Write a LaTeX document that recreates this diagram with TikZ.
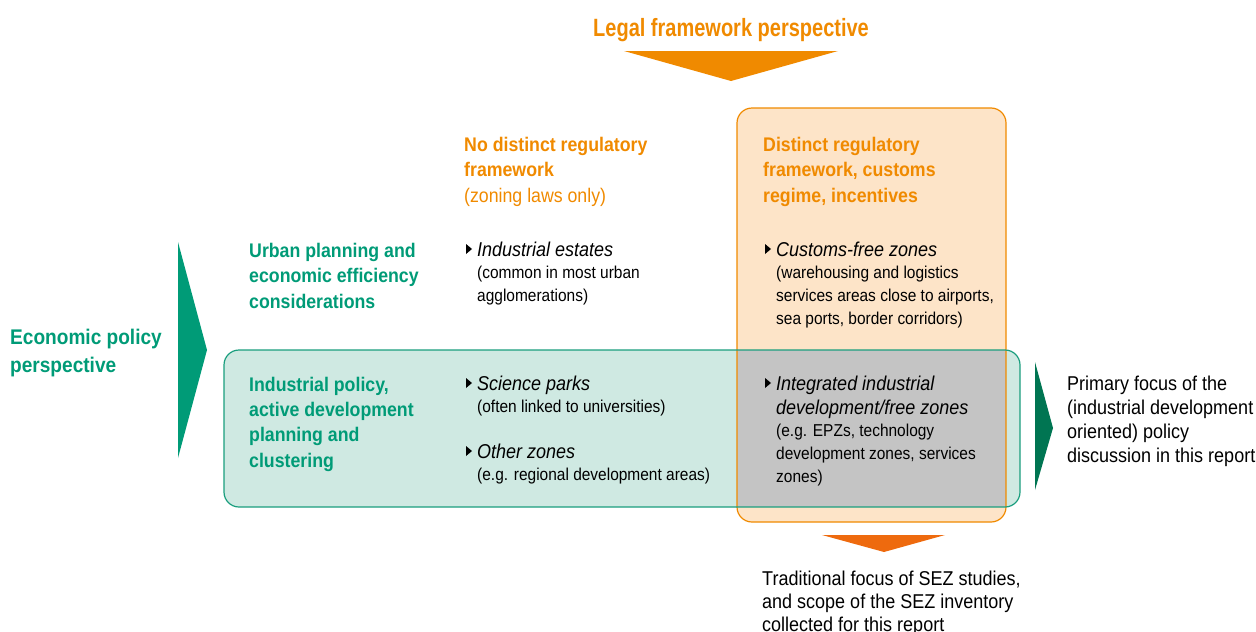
\documentclass[tikz,border=0pt]{standalone}
\usepackage{fontspec}
\setmainfont{Liberation Sans}[FakeStretch=0.9]
\newfontfamily\titlefont{Liberation Sans}[FakeStretch=0.8]
\usetikzlibrary{calc}
\definecolor{lorange}{HTML}{F08A00}
\definecolor{dorange}{HTML}{EE6A0E}
\definecolor{ofill}{HTML}{FDE4C8}
\definecolor{gline}{HTML}{1A9E7E}
\definecolor{gtext}{HTML}{009B77}
\definecolor{gfill}{HTML}{CFE9E2}
\definecolor{dgreen}{HTML}{007552}
\definecolor{grey}{HTML}{C4C4C4}
\tikzset{
  txt/.style={anchor=base west, inner sep=0pt, align=left},
  ttl/.style={txt, text=lorange, font=\titlefont\bfseries\fontsize{25}{30}\selectfont},
  colhead/.style={txt, text=lorange, font=\bfseries\fontsize{19.7}{25.5}\selectfont},
  rowhead/.style={txt, text=gtext, font=\bfseries\fontsize{19.7}{25.3}\selectfont},
  econ/.style={txt, text=gtext, font=\bfseries\fontsize{21.2}{28}\selectfont},
  item/.style={txt, font=\itshape\fontsize{20}{24}\selectfont},
  desc/.style={txt, font=\fontsize{17.2}{23}\selectfont},
  note/.style={txt, font=\fontsize{20}{24}\selectfont},
  notes/.style={txt, font=\fontsize{20}{23}\selectfont},
  bul/.style={fill=black},
}
\newcommand{\bullettri}[1]{\fill[bul] #1 ++(-11,-2) -- ++(0,-10) -- ++(6,5) -- cycle;}
\begin{document}
\begin{tikzpicture}[x=1pt,y=-1pt]
\useasboundingbox (0,0) rectangle (1256,632);
% boxes
\fill[ofill, rounded corners=15] (737,108) rectangle (1006,522);
\fill[gfill, rounded corners=15] (224,350) rectangle (1020,507);
\fill[grey] (737,350) rectangle (1006,507);
\draw[lorange, line width=1.2, rounded corners=15] (737,108) rectangle (1006,522);
\draw[gline, line width=1.2, rounded corners=15] (224,350) rectangle (1020,507);
% arrows
\coordinate (tA) at (624,51); \coordinate (tB) at (838,51); \coordinate (tC) at (731,81);
\fill[lorange] (tA) -- (tB) -- (tC) -- cycle;
\coordinate (lA) at (178,242); \coordinate (lB) at (178,458); \coordinate (lC) at (207,350);
\fill[gtext] (lA) -- (lC) -- (lB) -- cycle;
\coordinate (rA) at (1035,362); \coordinate (rB) at (1035,490); \coordinate (rC) at (1053,428);
\fill[dgreen] (rA) -- (rC) -- (rB) -- cycle;
\coordinate (bA) at (822,535); \coordinate (bB) at (945,535); \coordinate (bC) at (884,552);
\fill[dorange] (bA) -- (bB) -- (bC) -- cycle;
% titles (multi-line nodes are placed by the baseline of their last line)
\node[ttl] (legal) at (593,36) {Legal framework perspective};
\node[econ] (econ) at (10,372) {Economic policy\\perspective};
\node[colhead] (col1) at (464,202) {No distinct regulatory\\framework\\\mdseries(zoning laws only)};
\node[colhead] (col2) at (763,202) {Distinct regulatory\\framework, customs\\regime, incentives};
\node[rowhead] (row1) at (249,308) {Urban planning and\\economic efficiency\\considerations};
\node[rowhead] (row2) at (249,467) {Industrial policy,\\active development\\planning and\\clustering};
% items
\node[item] (ie) at (477,256) {Industrial estates};
\node[desc] (ied) at (477,301) {(common in most urban\\agglomerations)};
\node[item] (cf) at (776,256) {Customs-free zones};
\node[desc] (cfd) at (776,324) {(warehousing and logistics\\services areas close to airports,\\sea ports, border corridors)};
\node[item] (sp) at (477,390) {Science parks};
\node[desc] (spd) at (477,412) {(often linked to universities)};
\node[item] (oz) at (477,458) {Other zones};
\node[desc] (ozd) at (477,480) {(e.g. regional development areas)};
\node[item] (iz) at (776,414) {Integrated industrial\\development/free zones};
\node[desc] (izd) at (776,482) {(e.g. EPZs, technology\\development zones, services\\zones)};
\bullettri{(ie.base west)}\bullettri{(cf.base west)}\bullettri{(sp.base west)}\bullettri{(oz.base west)}
\bullettri{([yshift=24pt]iz.base west)}
% notes
\node[note] (prim) at (1067,462) {Primary focus of the\\(industrial development\\oriented) policy\\discussion in this report};
\node[notes] (trad) at (762,631) {Traditional focus of SEZ studies,\\and scope of the SEZ inventory\\collected for this report};
\end{tikzpicture}
\end{document}
